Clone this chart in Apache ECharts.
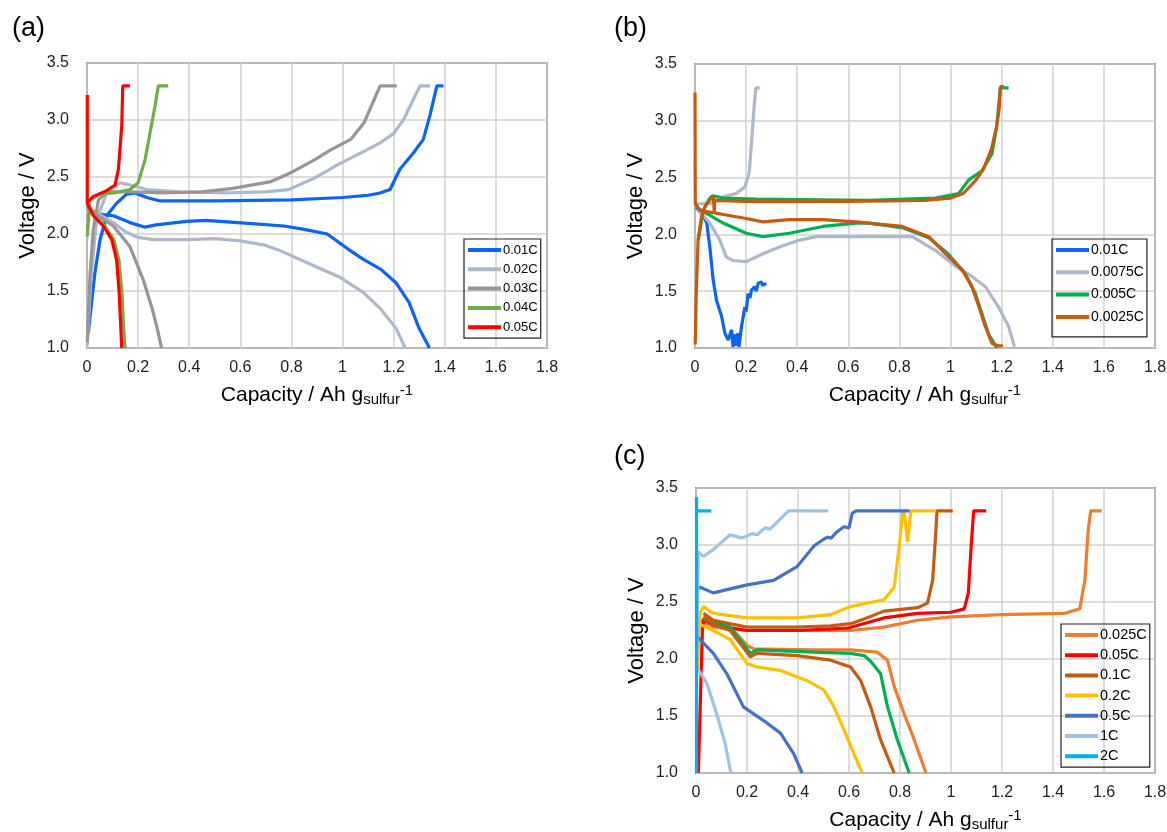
<!DOCTYPE html>
<html>
<head>
<meta charset="utf-8">
<script src="https://cdn.jsdelivr.net/npm/echarts@6/dist/echarts.min.js"></script>
<style>
body{margin:0;background:#fff;}
#chart1{width:1167px;height:832px;}
</style>
</head>
<body>
<div id="chart1"></div>
<script>
// (a) 各倍率 充放电曲线 [容量, 电压]
var a01_dis=[[0.001,2.24],[0.025,2.19],[0.06,2.17],[0.103,2.16],[0.168,2.1],[0.227,2.06],[0.27,2.08],[0.39,2.11],[0.465,2.12],[0.59,2.1],[0.77,2.07],[0.85,2.04],[0.94,2.0],[1.02,1.87],[1.08,1.78],[1.15,1.69],[1.21,1.57],[1.26,1.4],[1.30,1.17],[1.34,1.0]];
var a01_chg=[[0.005,1.13],[0.031,1.66],[0.051,1.95],[0.077,2.16],[0.116,2.27],[0.155,2.35],[0.188,2.36],[0.234,2.32],[0.286,2.29],[0.5,2.29],[0.8,2.3],[1.0,2.32],[1.1,2.34],[1.147,2.36],[1.186,2.39],[1.205,2.48],[1.225,2.57],[1.277,2.71],[1.316,2.83],[1.342,3.04],[1.369,3.3],[1.395,3.3]];
var a02_dis=[[0.001,2.24],[0.05,2.17],[0.103,2.1],[0.15,2.02],[0.2,1.97],[0.26,1.95],[0.4,1.95],[0.5,1.96],[0.6,1.94],[0.7,1.9],[0.76,1.85],[0.89,1.72],[0.99,1.62],[1.08,1.49],[1.15,1.34],[1.21,1.17],[1.245,1.0]];
var a02_chg=[[0.001,1.02],[0.015,1.6],[0.038,2.13],[0.077,2.36],[0.129,2.45],[0.168,2.43],[0.234,2.39],[0.364,2.37],[0.55,2.36],[0.7,2.37],[0.79,2.39],[0.89,2.49],[0.99,2.62],[1.08,2.72],[1.147,2.8],[1.2,2.88],[1.238,3.0],[1.303,3.3],[1.342,3.3]];
var a03_dis=[[0.001,2.24],[0.05,2.15],[0.103,2.07],[0.168,1.89],[0.22,1.6],[0.253,1.36],[0.273,1.19],[0.292,1.0]];
var a03_chg=[[0.001,1.05],[0.012,1.65],[0.025,2.05],[0.045,2.3],[0.08,2.37],[0.17,2.37],[0.3,2.36],[0.45,2.37],[0.57,2.4],[0.72,2.46],[0.8,2.54],[0.89,2.65],[0.955,2.74],[1.032,2.83],[1.084,2.975],[1.147,3.3],[1.212,3.3]];
var a04_dis=[[0.001,2.27],[0.03,2.16],[0.07,2.07],[0.105,1.95],[0.125,1.77],[0.137,1.48],[0.143,1.19],[0.149,1.0]];
var a04_chg=[[0.001,1.98],[0.012,2.3],[0.051,2.35],[0.103,2.36],[0.168,2.39],[0.2,2.45],[0.227,2.65],[0.247,2.89],[0.266,3.12],[0.279,3.3],[0.318,3.3]];
var a05_dis=[[0.001,3.22],[0.001,2.27],[0.025,2.16],[0.064,2.07],[0.097,1.95],[0.116,1.77],[0.126,1.48],[0.132,1.19],[0.136,1.0]];
var a05_chg=[[0.001,2.28],[0.025,2.33],[0.077,2.38],[0.11,2.43],[0.123,2.57],[0.136,2.95],[0.14,3.3],[0.168,3.3]];

// (b)
var b01_dis=[[0.003,2.24],[0.03,2.17],[0.046,2.1],[0.058,1.89],[0.071,1.6],[0.084,1.42],[0.104,1.28],[0.117,1.13],[0.13,1.07],[0.143,1.16],[0.149,1.01],[0.157,1.12],[0.162,1.02],[0.168,1.13],[0.172,1.01],[0.182,1.19],[0.195,1.36],[0.2,1.32],[0.208,1.48],[0.215,1.44],[0.221,1.51],[0.234,1.54],[0.24,1.5],[0.247,1.57],[0.26,1.58],[0.265,1.55],[0.279,1.57]];
var b0075_dis=[[0.003,2.24],[0.058,2.1],[0.097,1.95],[0.123,1.8],[0.149,1.77],[0.201,1.76],[0.266,1.83],[0.331,1.89],[0.409,1.95],[0.474,1.98],[0.565,1.98],[0.68,1.98],[0.85,1.98],[0.94,1.86],[1.02,1.72],[1.084,1.63],[1.136,1.54],[1.188,1.36],[1.227,1.19],[1.25,1.01]];
var b0075_chg=[[0.0,2.27],[0.058,2.27],[0.11,2.33],[0.162,2.36],[0.195,2.42],[0.212,2.54],[0.221,2.8],[0.23,3.09],[0.238,3.29],[0.253,3.29]];
var b005_dis=[[0.003,2.24],[0.11,2.1],[0.2,2.01],[0.266,1.98],[0.37,2.01],[0.5,2.07],[0.63,2.1],[0.68,2.1],[0.81,2.06],[0.915,1.97],[0.99,1.83],[1.058,1.65],[1.097,1.48],[1.123,1.3],[1.149,1.12],[1.181,1.0]];
var b005_chg=[[0.013,1.95],[0.032,2.21],[0.058,2.32],[0.07,2.34],[0.11,2.32],[0.24,2.31],[0.68,2.3],[0.94,2.32],[1.032,2.36],[1.071,2.48],[1.123,2.56],[1.162,2.71],[1.18,2.94],[1.195,3.29],[1.227,3.29]];
var b0025_dis=[[0.0,3.25],[0.001,2.27],[0.02,2.21],[0.1,2.18],[0.2,2.14],[0.266,2.11],[0.37,2.13],[0.5,2.13],[0.63,2.11],[0.68,2.1],[0.81,2.07],[0.915,1.98],[0.98,1.83],[1.045,1.69],[1.084,1.54],[1.11,1.37],[1.136,1.19],[1.162,1.04],[1.188,1.02],[1.205,1.02]];
var b0025_chg=[[0.001,1.03],[0.005,1.5],[0.012,1.95],[0.025,2.15],[0.04,2.25],[0.06,2.31],[0.072,2.33],[0.075,2.2],[0.078,2.3],[0.2,2.29],[0.6,2.29],[0.9,2.3],[1.0,2.32],[1.05,2.36],[1.1,2.48],[1.13,2.58],[1.16,2.75],[1.18,2.95],[1.19,3.1],[1.195,3.3],[1.208,3.3]];

// (c)
var c025_dis=[[0.03,2.36],[0.13,2.29],[0.2,2.12],[0.226,2.09],[0.462,2.08],[0.606,2.08],[0.711,2.06],[0.751,1.99],[0.777,1.76],[0.816,1.52],[0.856,1.29],[0.902,1.0]];
var c025_chg=[[0.016,2.34],[0.068,2.28],[0.2,2.25],[0.606,2.25],[0.737,2.28],[0.869,2.34],[1.0,2.37],[1.197,2.39],[1.446,2.4],[1.505,2.44],[1.525,2.69],[1.538,3.13],[1.548,3.3],[1.591,3.3]];
var c05_chg=[[0.009,1.0],[0.018,1.7],[0.025,2.25],[0.03,2.35],[0.068,2.3],[0.2,2.25],[0.396,2.25],[0.593,2.27],[0.737,2.36],[0.869,2.4],[1.0,2.41],[1.052,2.44],[1.068,2.58],[1.079,2.99],[1.089,3.3],[1.138,3.3]];
var c05_dis=[[0.029,2.35],[0.134,2.28],[0.213,2.05],[0.239,2.08],[0.462,2.06],[0.606,2.05],[0.659,2.03],[0.685,1.98],[0.724,1.87],[0.751,1.58],[0.79,1.29],[0.836,1.0]];
var c1_chg=[[0.029,2.4],[0.068,2.34],[0.2,2.28],[0.396,2.28],[0.528,2.29],[0.606,2.31],[0.659,2.35],[0.737,2.42],[0.869,2.45],[0.908,2.49],[0.928,2.69],[0.941,3.13],[0.945,3.3],[1.007,3.3]];
var c1_dis=[[0.029,2.37],[0.068,2.3],[0.134,2.25],[0.213,2.02],[0.239,2.05],[0.396,2.03],[0.528,1.99],[0.606,1.93],[0.646,1.81],[0.685,1.58],[0.724,1.29],[0.777,1.0]];
var c2_chg=[[0.005,1.9],[0.016,2.4],[0.029,2.46],[0.068,2.4],[0.2,2.36],[0.396,2.36],[0.528,2.39],[0.606,2.46],[0.737,2.52],[0.777,2.63],[0.797,2.99],[0.81,3.28],[0.816,3.3],[0.83,3.03],[0.843,3.3],[0.941,3.3]];
var c2_dis=[[0.009,2.31],[0.068,2.25],[0.134,2.17],[0.2,1.96],[0.239,1.93],[0.331,1.9],[0.436,1.81],[0.501,1.73],[0.541,1.58],[0.58,1.38],[0.619,1.17],[0.652,1.0]];
var c5_chg=[[0.003,2.2],[0.003,2.61],[0.016,2.63],[0.068,2.58],[0.2,2.65],[0.304,2.69],[0.396,2.81],[0.462,2.99],[0.48,3.02],[0.5,3.05],[0.515,3.07],[0.53,3.06],[0.55,3.11],[0.58,3.16],[0.6,3.15],[0.613,3.28],[0.628,3.3],[0.838,3.3]];
var c5_dis=[[0.003,2.2],[0.068,2.05],[0.121,1.87],[0.186,1.58],[0.265,1.46],[0.331,1.35],[0.383,1.17],[0.416,1.0]];
var c10_chg=[[0.003,2.0],[0.009,2.94],[0.029,2.9],[0.068,2.96],[0.134,3.09],[0.18,3.06],[0.22,3.1],[0.24,3.09],[0.27,3.15],[0.29,3.14],[0.318,3.2],[0.363,3.3],[0.518,3.3]];
var c10_dis=[[0.003,1.93],[0.042,1.79],[0.081,1.52],[0.114,1.26],[0.137,1.0]];
var c20_chg=[[0.002,1.0],[0.002,3.42]];
var c20_top=[[0.0,3.3],[0.06,3.3]];

var FONT="Liberation Sans";

///////////////////////////////////////////
var line=function (name,grid,color,data) {
    return {name:name,type:"line",xAxisIndex:grid,yAxisIndex:grid,
        data:data,showSymbol:false,symbol:"none",
        lineStyle:{color:color,width:3.2},itemStyle:{color:color},
        silent:true,animation:false};
};
var xAx=function (i) {
    return {gridIndex:i,type:"value",min:0,max:1.8,interval:0.2,
        name:"{m|Capacity / Ah g}{sub|sulfur}{sup|-1}",nameLocation:"middle",nameGap:35,
        nameTextStyle:{rich:{
            m:{fontSize:21,fontFamily:FONT,color:"#000",lineHeight:24,verticalAlign:"middle"},
            sub:{fontSize:15,fontFamily:FONT,color:"#000",lineHeight:15,verticalAlign:"bottom"},
            sup:{fontSize:15,fontFamily:FONT,color:"#000",lineHeight:15,verticalAlign:"top"}
        }},
        axisLine:{show:false},axisTick:{show:false},
        axisLabel:{fontSize:16,fontFamily:FONT,color:"#222",margin:12},
        splitLine:{show:true,lineStyle:{color:"#d0d0d0",width:1.5}}
    };
};
var yAx=function (i) {
    return {gridIndex:i,type:"value",min:1,max:3.5,interval:0.5,
        name:"Voltage / V",nameLocation:"middle",nameGap:48,
        nameTextStyle:{fontSize:22,fontFamily:FONT,color:"#000"},
        axisLine:{show:false},axisTick:{show:false},
        axisLabel:{fontSize:16,fontFamily:FONT,color:"#222",margin:18,
            formatter:function (v) {return v.toFixed(1);}},
        splitLine:{show:true,lineStyle:{color:"#d0d0d0",width:1.5}}
    };
};
var lg=function (names,left,top,gap,fs,pad) {
    return {orient:"vertical",left:left,top:top,data:names,
        icon:"rect",itemWidth:33,itemHeight:4,itemGap:gap,
        borderColor:"#222",borderWidth:1.2,padding:pad,
        formatter:function (n) {return n.split("|")[1];},
        textStyle:{fontSize:fs,fontFamily:FONT,color:"#000",lineHeight:16,padding:[0,0,0,-3]},
        selectedMode:false
    };
};
var tt=function (t,left,top) {
    return {text:t,left:left,top:top,textStyle:{fontSize:27,fontWeight:"normal",fontFamily:FONT,color:"#000"}};
};
var gr=function (l,t,w,h) {
    return {left:l,top:t,width:w,height:h,containLabel:false,outerBoundsMode:"none",
        show:true,borderColor:"#404040",borderWidth:1.5,backgroundColor:"transparent"};
};

var chart=echarts.init(document.getElementById("chart1"));
var option={
    backgroundColor:"#fff",
    animation:false,
    title:[tt("(a)",7,10),tt("(b)",609,10),tt("(c)",609,438)],
    grid:[gr(87,63,460,285),gr(695,64,460,284),gr(696,488,459,285)],
    xAxis:[xAx(0),xAx(1),xAx(2)],
    yAxis:[yAx(0),yAx(1),yAx(2)],
    legend:[
        lg(["a|0.01C","a|0.02C","a|0.03C","a|0.04C","a|0.05C"],464,239,3.3,13,[3,3,3,4]),
        lg(["b|0.01C","b|0.0075C","b|0.005C","b|0.0025C"],1052,239,6.3,14,[3,3,12,4]),
        lg(["c|0.025C","c|0.05C","c|0.1C","c|0.2C","c|0.5C","c|1C","c|2C"],1061,624,4.2,14.5,[3,3,3,4])
    ],
    series:[
        line("a|0.01C",0,"#0a64f5",a01_dis),line("a|0.01C",0,"#0a64f5",a01_chg),
        line("a|0.02C",0,"#adb9ca",a02_dis),line("a|0.02C",0,"#adb9ca",a02_chg),
        line("a|0.03C",0,"#969696",a03_dis),line("a|0.03C",0,"#969696",a03_chg),
        line("a|0.04C",0,"#70ad47",a04_dis),line("a|0.04C",0,"#70ad47",a04_chg),
        line("a|0.05C",0,"#ff0000",a05_dis),line("a|0.05C",0,"#ff0000",a05_chg),

        line("b|0.01C",1,"#0a64f5",b01_dis),
        line("b|0.0075C",1,"#adb9ca",b0075_dis),line("b|0.0075C",1,"#adb9ca",b0075_chg),
        line("b|0.005C",1,"#00b050",b005_dis),line("b|0.005C",1,"#00b050",b005_chg),
        line("b|0.0025C",1,"#c55a11",b0025_dis),line("b|0.0025C",1,"#c55a11",b0025_chg),

        line("c|0.025C",2,"#ed7d31",c025_dis),line("c|0.025C",2,"#ed7d31",c025_chg),
        line("c|0.05C",2,"#ff0000",c05_chg),
        line("c|0.05Cd",2,"#00b050",c05_dis),
        line("c|0.1C",2,"#c55a11",c1_dis),line("c|0.1C",2,"#c55a11",c1_chg),
        line("c|0.2C",2,"#ffc000",c2_dis),line("c|0.2C",2,"#ffc000",c2_chg),
        line("c|0.5C",2,"#4472c4",c5_dis),line("c|0.5C",2,"#4472c4",c5_chg),
        line("c|1C",2,"#9dc3e6",c10_dis),line("c|1C",2,"#9dc3e6",c10_chg),
        line("c|2C",2,"#00b0f0",c20_chg),line("c|2C",2,"#00b0f0",c20_top)
    ]
};
chart.setOption(option);
</script>
</body>
</html>
